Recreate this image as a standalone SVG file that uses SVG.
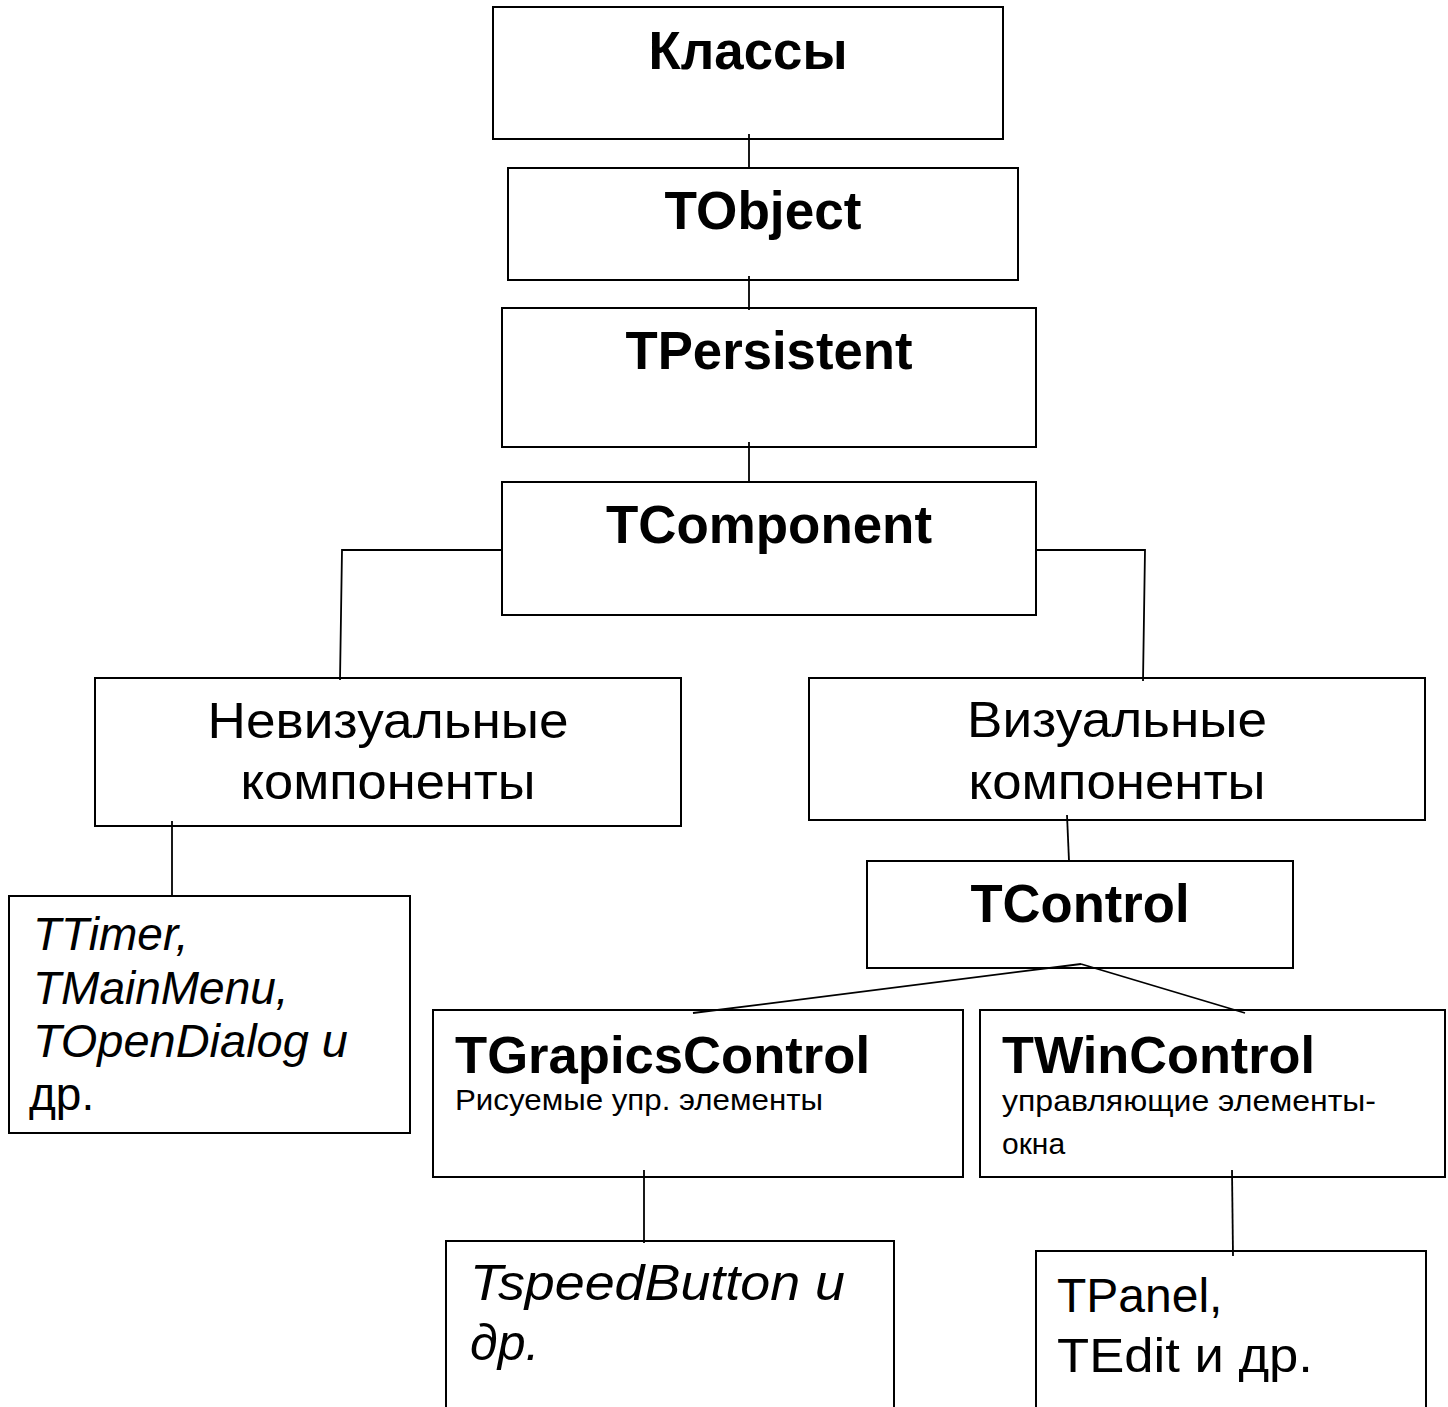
<svg xmlns="http://www.w3.org/2000/svg" width="1448" height="1407" viewBox="0 0 1448 1407">
  <style>
    .box { fill: #ffffff; stroke: #000000; stroke-width: 2; }
    .link { fill: none; stroke: #000000; stroke-width: 1.8; }
    text { font-family: "Liberation Sans", Arial, sans-serif; fill: #000000; }
    .title { font-weight: bold; font-size: 53px; }
    .mid { text-anchor: middle; }
    .plain { font-size: 50px; }
    .ital { font-style: italic; font-size: 46px; }
    .note { font-size: 30px; }
  </style>
  <rect width="1448" height="1407" fill="#ffffff"/>

  <g id="classes">
    <rect class="box" x="493" y="7" width="510" height="132"/>
    <text class="title mid" x="748" y="69" textLength="199" lengthAdjust="spacingAndGlyphs">Классы</text>
  </g>

  <g id="tobject">
    <rect class="box" x="508" y="168" width="510" height="112"/>
    <text class="title mid" x="763" y="229" textLength="197" lengthAdjust="spacingAndGlyphs">TObject</text>
  </g>

  <g id="tpersistent">
    <rect class="box" x="502" y="308" width="534" height="139"/>
    <text class="title mid" x="769" y="369" textLength="287" lengthAdjust="spacingAndGlyphs">TPersistent</text>
  </g>

  <g id="tcomponent">
    <rect class="box" x="502" y="482" width="534" height="133"/>
    <text class="title mid" x="769" y="543" textLength="326" lengthAdjust="spacingAndGlyphs">TComponent</text>
  </g>

  <g id="nonvisual">
    <rect class="box" x="95" y="678" width="586" height="148"/>
    <text class="plain mid" x="388" y="738" textLength="361" lengthAdjust="spacingAndGlyphs">Невизуальные</text>
    <text class="plain mid" x="388" y="799" textLength="295" lengthAdjust="spacingAndGlyphs">компоненты</text>
  </g>

  <g id="visual">
    <rect class="box" x="809" y="678" width="616" height="142"/>
    <text class="plain mid" x="1117" y="737" textLength="300" lengthAdjust="spacingAndGlyphs">Визуальные</text>
    <text class="plain mid" x="1117" y="799" textLength="297" lengthAdjust="spacingAndGlyphs">компоненты</text>
  </g>

  <g id="nonvisual-examples">
    <rect class="box" x="9" y="896" width="401" height="237"/>
    <text class="ital" x="33" y="950">TTimer,</text>
    <text class="ital" x="33" y="1004">TMainMenu,</text>
    <text class="ital" x="33" y="1057" textLength="315" lengthAdjust="spacingAndGlyphs">TOpenDialog и</text>
    <text class="plain" x="29" y="1110" style="font-size:46px">др.</text>
  </g>

  <g id="tcontrol">
    <rect class="box" x="867" y="861" width="426" height="107"/>
    <text class="title mid" x="1080" y="922" textLength="219" lengthAdjust="spacingAndGlyphs">TControl</text>
  </g>

  <g id="tgraphiccontrol">
    <rect class="box" x="433" y="1010" width="530" height="167"/>
    <text class="title" x="455" y="1073" style="font-size:52px" textLength="415" lengthAdjust="spacingAndGlyphs">TGrapicsControl</text>
    <text class="note" x="455" y="1110" textLength="368" lengthAdjust="spacingAndGlyphs">Рисуемые упр. элементы</text>
  </g>

  <g id="twincontrol">
    <rect class="box" x="980" y="1010" width="465" height="167"/>
    <text class="title" x="1002" y="1073" style="font-size:52px" textLength="313" lengthAdjust="spacingAndGlyphs">TWinControl</text>
    <text class="note" x="1002" y="1111" textLength="374" lengthAdjust="spacingAndGlyphs">управляющие элементы-</text>
    <text class="note" x="1002" y="1154">окна</text>
  </g>

  <g id="graphic-examples">
    <rect class="box" x="446" y="1241" width="448" height="180"/>
    <text class="ital" x="470" y="1300" style="font-size:50px" textLength="375" lengthAdjust="spacingAndGlyphs">TspeedButton и</text>
    <text class="ital" x="470" y="1360" style="font-size:50px">др.</text>
  </g>

  <g id="win-examples">
    <rect class="box" x="1036" y="1251" width="390" height="170"/>
    <text class="plain" x="1057" y="1312" style="font-size:48px">TPanel,</text>
    <text class="plain" x="1057" y="1372" style="font-size:48px" textLength="256" lengthAdjust="spacingAndGlyphs">TEdit и др.</text>
  </g>

  <!-- connectors drawn over the boxes; their ends reach a little inside the borders -->
  <g id="connectors">
    <line class="link" x1="749" y1="134" x2="749" y2="169"/>
    <line class="link" x1="749" y1="276" x2="749" y2="310"/>
    <line class="link" x1="749" y1="442" x2="749" y2="482"/>
    <polyline class="link" points="502,550 342,550 340,680"/>
    <polyline class="link" points="1036,550 1145,550 1143,681"/>
    <line class="link" x1="172" y1="821" x2="172" y2="896"/>
    <line class="link" x1="1067" y1="815" x2="1069" y2="861"/>
    <line class="link" x1="1081" y1="964" x2="693" y2="1013"/>
    <line class="link" x1="1081" y1="964" x2="1245" y2="1013"/>
    <line class="link" x1="644" y1="1170" x2="644" y2="1243"/>
    <line class="link" x1="1232" y1="1170" x2="1233" y2="1256"/>
  </g>
</svg>
